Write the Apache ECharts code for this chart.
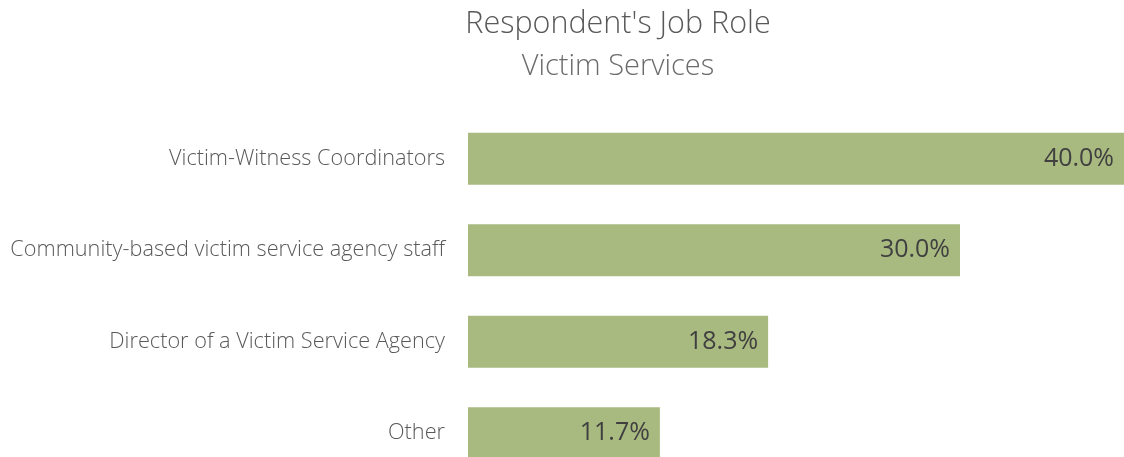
<!DOCTYPE html>
<html>
<head>
<meta charset="utf-8">
<script src="https://cdn.jsdelivr.net/npm/echarts@6/dist/echarts.min.js"></script>
<style>
  html, body { margin: 0; padding: 0; background: #fff; }
  #chart { width: 1124px; height: 457px; }
</style>
</head>
<body>
<div id="chart"></div>
<script>
// job roles, top to bottom
const roles = [
  'Victim-Witness Coordinators',
  'Community-based victim service agency staff',
  'Director of a Victim Service Agency',
  'Other'
]
const shares = [40.0, 30.0, 18.3, 11.7]

const FONT = '"Open Sans", "Noto Sans", sans-serif'

const chart = echarts.init(document.getElementById('chart'))
chart.setOption({
  animation: false,
  title: {
    text: "Respondent's Job Role",
    subtext: 'Victim Services',
    left: 613,
    textAlign: 'center',
    top: 4,
    itemGap: 12,
    textStyle: { fontFamily: FONT, fontSize: 30.5, fontWeight: 300, color: '#595959' },
    subtextStyle: { fontFamily: FONT, fontSize: 29, fontWeight: 300, color: '#6b6b6b' }
  },
  grid: { left: 468, right: 0, top: 113, height: 366, outerBoundsMode: 'none', containLabel: false },
  xAxis: {
    type: 'value', min: 0, max: 40,
    show: false
  },
  yAxis: {
    type: 'category',
    inverse: true,
    data: roles,
    axisLine: { show: false },
    axisTick: { show: false },
    axisLabel: {
      margin: 23,
      fontFamily: FONT, fontSize: 21.7, fontWeight: 300, color: '#595959'
    }
  },
  series: [{
    type: 'bar',
    data: shares,
    barCategoryGap: '43%',
    itemStyle: { color: '#a9ba80' },
    label: {
      show: true,
      position: 'insideRight',
      distance: 10,
      formatter: p => p.value.toFixed(1) + '%',
      fontFamily: FONT, fontSize: 25, color: '#404040'
    }
  }]
})
</script>
</body>
</html>
